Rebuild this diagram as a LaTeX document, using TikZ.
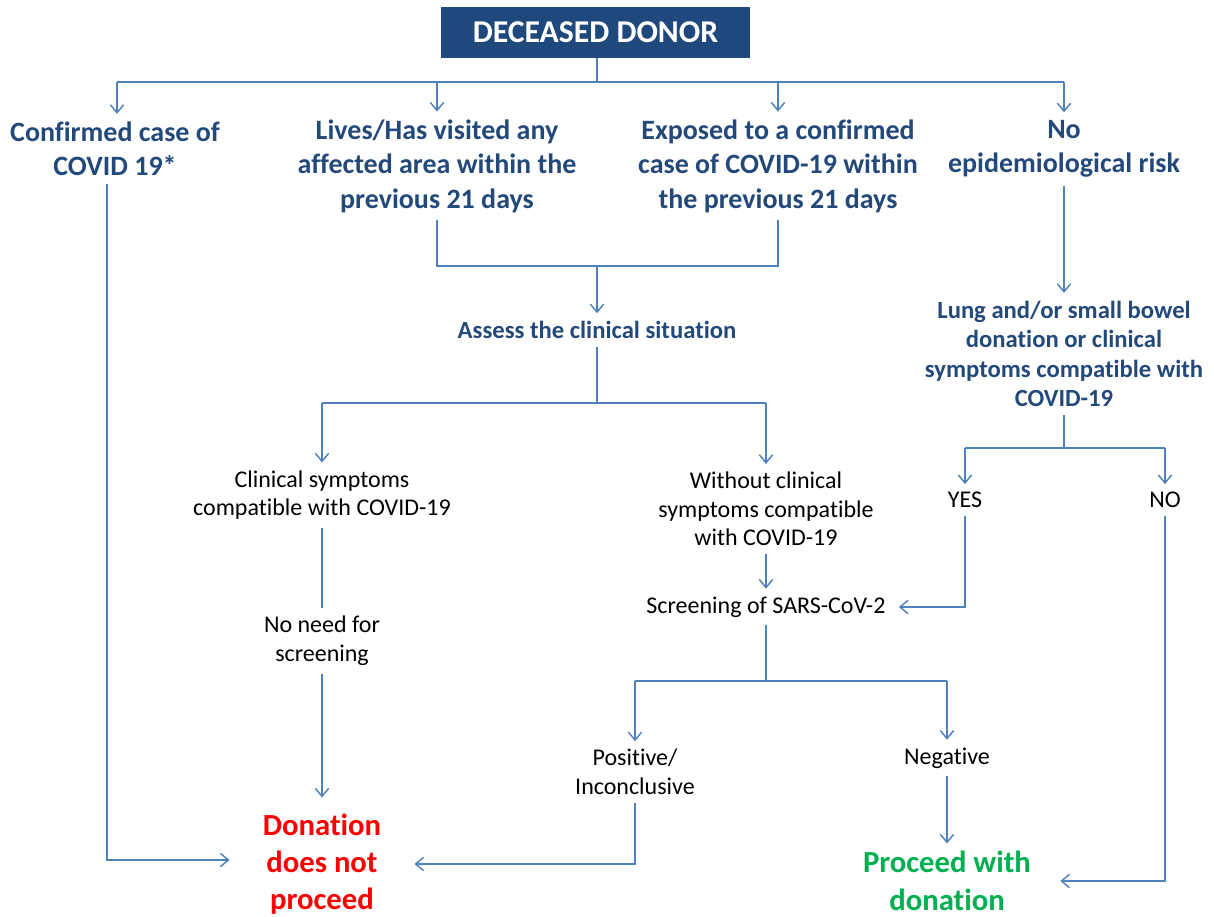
\documentclass[tikz,border=0pt]{standalone}
\usepackage{fontspec}
\setmainfont{Carlito}[Ligatures={NoCommon,NoContextual}]
\usetikzlibrary{arrows.meta}
\definecolor{dblue}{HTML}{1F497D}
\definecolor{lblue}{HTML}{4F81BD}
\definecolor{tblue}{HTML}{23497A}
\definecolor{rred}{HTML}{FF0000}
\definecolor{ggreen}{HTML}{00B050}
\begin{document}
\begin{tikzpicture}[x=0.75pt,y=-0.75pt,
  ln/.style={draw=lblue, line width=1.3pt},
  arr/.style={ln, -{Straight Barb[length=6pt,width=10pt,line width=1.1pt]}},
  big/.style={text=tblue, font=\fontsize{21}{25.8}\selectfont\bfseries, align=center, inner sep=0pt, outer xsep=0pt, outer ysep=6pt},
  mid/.style={text=tblue, font=\fontsize{18.5}{22.2}\selectfont\bfseries, align=center, inner sep=0pt, outer xsep=0pt, outer ysep=6pt},
  plain/.style={text=black, font=\fontsize{18}{21.5}\selectfont, align=center, inner sep=0pt, outer xsep=0pt, outer ysep=6pt},
  res/.style={font=\fontsize{23}{28}\selectfont\bfseries, align=center, inner sep=0pt, outer ysep=6pt}]
\useasboundingbox (0,0) rectangle (1214,917);
% nodes
\node[fill=dblue, minimum width=231.75pt, minimum height=38.25pt, inner sep=0pt, text=white, font=\fontsize{23.8}{28}\selectfont\bfseries] (dd) at (595.5,32.5) {DECEASED DONOR};
\node[big] (c1) at (115,149) {Confirmed case of\\COVID 19*};
\node[big] (c2) at (437,166) {Lives/Has visited any\\affected area within the\\previous 21 days};
\node[big] (c3) at (778,166) {Exposed to a confirmed\\case of COVID-19 within\\the previous 21 days};
\node[big] (c4) at (1064,149) {No\\epidemiological risk};
\node[mid] (as) at (597,330) {Assess the clinical situation};
\node[mid] (lg) at (1064,354) {Lung and/or small bowel\\donation or clinical\\symptoms compatible with\\COVID-19};
\node[plain] (cs) at (322,495) {Clinical symptoms\\compatible with COVID-19};
\node[plain] (wc) at (766,509) {Without clinical\\symptoms compatible\\with COVID-19};
\node[plain] (ys) at (965,500) {YES};
\node[plain] (no) at (1165,500) {NO};
\node[plain] (nn) at (322,641) {No need for\\screening};
\node[plain, outer xsep=10pt] (sc) at (766,607) {Screening of SARS-CoV-2};
\node[plain] (pi) at (635,772) {Positive/\\Inconclusive};
\node[plain] (ng) at (947,758) {Negative};
\node[res, text=rred, outer xsep=25pt, outer ysep=12pt] (dnp) at (322,864) {Donation\\does not\\proceed};
\node[res, text=ggreen, outer xsep=22pt] (pd) at (947,881) {Proceed with\\donation};
% junction coordinates
\coordinate (t0) at (597,82);
\coordinate (b1) at (117,82);
\coordinate (b2) at (437,82);
\coordinate (b3) at (778,82);
\coordinate (b4) at (1064,82);
\coordinate (m1) at (597,266);
\coordinate (m2) at (597,403);
\coordinate (m3) at (766,681);
\coordinate (m4) at (1064,448);
\coordinate (k1) at (107,860);
% connectors
\draw[ln] (dd.south -| t0) -- (t0);
\draw[ln] (b1) -- (b4);
\draw[arr] (b1) -- (c1.north -| b1);
\draw[arr] (b2) -- (c2.north -| b2);
\draw[arr] (b3) -- (c3.north -| b3);
\draw[arr] (b4) -- (c4.north -| b4);
\draw[arr] (c1.south -| k1) -- (k1) -- (dnp.west |- k1);
\draw[ln] (c2.south) -- (c2.south |- m1) -- (c3.south |- m1) -- (c3.south);
\draw[arr] (m1) -- (as.north);
\draw[ln] (as.south) -- (m2);
\draw[ln] (cs.north |- m2) -- (wc.north |- m2);
\draw[arr] (cs.north |- m2) -- (cs.north);
\draw[arr] (wc.north |- m2) -- (wc.north);
\draw[ln] (cs.south) -- (nn.north);
\draw[arr] (nn.south) -- (dnp.north -| nn.south);
\draw[arr] (wc.south) -- (sc.north);
\draw[ln] (sc.south) -- (m3);
\draw[ln] (pi.north |- m3) -- (ng.north |- m3);
\draw[arr] (pi.north |- m3) -- (pi.north);
\draw[arr] (ng.north |- m3) -- (ng.north);
\draw[arr] (pi.south) |- (dnp.east);
\draw[arr] (ng.south) -- (pd.north);
\draw[arr] (c4.south) -- (lg.north);
\draw[ln] (lg.south) -- (m4);
\draw[ln] (ys.north |- m4) -- (no.north |- m4);
\draw[arr] (ys.north |- m4) -- (ys.north);
\draw[arr] (no.north |- m4) -- (no.north);
\draw[arr] (ys.south) |- (sc.east);
\draw[arr] (no.south) |- (pd.east);
\end{tikzpicture}
\end{document}
